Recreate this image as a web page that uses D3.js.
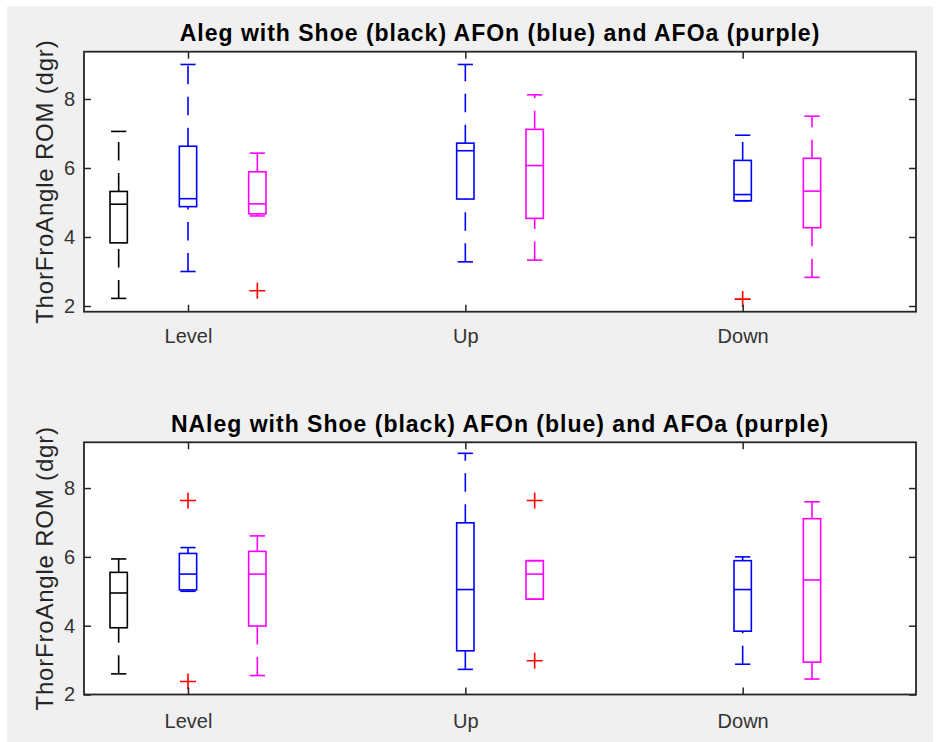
<!DOCTYPE html>
<html>
<head>
<meta charset="utf-8">
<script src="https://cdn.jsdelivr.net/npm/d3@7"></script>
<style>
    body { margin: 0; background: #ffffff; }
    svg text { font-family: "Liberation Sans", Arial, sans-serif; }
</style>
</head>
<body>
<div id="my_dataviz"></div>
<script>
// grupos en el eje x
let categories = ["Level", "Up", "Down"]
let categoryPos = [2, 6, 10]
let boxPos = [1, 2, 3, 6, 7, 10, 11]
let boxSeries = ["Shoe", "AFOn", "AFOa", "AFOn", "AFOa", "AFOn", "AFOa"]
let yTicks = [2, 4, 6, 8]

// Aleg
let topMin = [2.22, 3.00, 4.61, 3.28, 3.33, 5.05, 2.83]
let topQ1 = [3.83, 4.88, 4.67, 5.10, 4.54, 5.05, 4.27]
let topMed = [4.95, 5.11, 4.96, 6.50, 6.07, 5.23, 5.33]
let topQ3 = [5.32, 6.63, 5.89, 6.72, 7.12, 6.22, 6.28]
let topMax = [7.06, 9.00, 6.43, 9.00, 8.12, 6.95, 7.50]
let topOut = [[], [], [2.44], [], [], [2.20], []]

// NAleg
let botMin = [2.60, 5.00, 2.55, 2.73, 4.77, 2.88, 2.45]
let botQ1 = [3.94, 5.04, 3.99, 3.27, 4.77, 3.84, 2.94]
let botMed = [4.95, 5.50, 5.50, 5.05, 5.50, 5.05, 5.33]
let botQ3 = [5.55, 6.10, 6.16, 6.99, 5.89, 5.89, 7.11]
let botMax = [5.94, 6.27, 6.61, 9.01, 5.89, 6.00, 7.60]
let botOut = [[], [7.64, 2.38], [], [], [7.64, 2.98], [], []]

let colores = {"Shoe": "#000000", "AFOn": "#0000ff", "AFOa": "#ff00ff"}

var svg = d3.select("#my_dataviz")
    .append("svg")
        .attr("width", 937)
        .attr("height", 742)

svg.append("rect")
    .attr("x", 7).attr("y", 6)
    .attr("width", 926).attr("height", 736)
    .attr("fill", "#f0f0f0")

let xScale = d3.scaleLinear().domain([0.5, 12.5]).range([84, 916])

function armar(mins, q1s, meds, q3s, maxs, outs) {
    return boxPos.map((p, i) => ({
        pos: p, serie: boxSeries[i],
        min: mins[i], q1: q1s[i], med: meds[i], q3: q3s[i], max: maxs[i],
        out: outs[i]
    }))
}

function panel(data, titulo, top, bottom, yDomain, titleY, labelPad) {
    let yScale = d3.scaleLinear().domain(yDomain).range([bottom, top])
    let g = svg.append("g")

    g.append("rect")
        .attr("x", xScale.range()[0]).attr("y", top)
        .attr("width", xScale.range()[1] - xScale.range()[0])
        .attr("height", bottom - top)
        .attr("fill", "#ffffff")

    let boxW = xScale(0.5) - xScale(0.25)
    let capW = xScale(0.22) - xScale(0)

    let join = g.selectAll(".caja")
        .data(data)
        .enter()
        .append("g")
        .attr("class", "caja")
        .attr("stroke", d => colores[d.serie])
        .attr("stroke-width", 1.6)
        .attr("fill", "none")

    // bigotes punteados
    join.append("line")
        .attr("x1", d => xScale(d.pos)).attr("x2", d => xScale(d.pos))
        .attr("y1", d => yScale(d.q3)).attr("y2", d => yScale(d.max))
        .attr("stroke-dasharray", "18.5,12.5")
    join.append("line")
        .attr("x1", d => xScale(d.pos)).attr("x2", d => xScale(d.pos))
        .attr("y1", d => yScale(d.min)).attr("y2", d => yScale(d.q1))
        .attr("stroke-dasharray", "18.5,12.5")

    join.append("line")
        .attr("x1", d => xScale(d.pos) - capW / 2).attr("x2", d => xScale(d.pos) + capW / 2)
        .attr("y1", d => yScale(d.max)).attr("y2", d => yScale(d.max))
    join.append("line")
        .attr("x1", d => xScale(d.pos) - capW / 2).attr("x2", d => xScale(d.pos) + capW / 2)
        .attr("y1", d => yScale(d.min)).attr("y2", d => yScale(d.min))

    join.append("rect")
        .attr("x", d => xScale(d.pos) - boxW / 2)
        .attr("width", boxW)
        .attr("y", d => yScale(d.q3))
        .attr("height", d => yScale(d.q1) - yScale(d.q3))

    join.append("line")
        .attr("x1", d => xScale(d.pos) - boxW / 2).attr("x2", d => xScale(d.pos) + boxW / 2)
        .attr("y1", d => yScale(d.med)).attr("y2", d => yScale(d.med))

    // outliers
    join.selectAll(".out")
        .data(d => d.out.map(v => ({pos: d.pos, v: v})))
        .enter()
        .append("path")
        .attr("class", "out")
        .attr("stroke", "#ff0000")
        .attr("d", o => {
            let cx = xScale(o.pos), cy = yScale(o.v)
            return `M${cx - 8},${cy}H${cx + 8}M${cx},${cy - 8}V${cy + 8}`
        })

    let ejes = g.append("g")

    ejes.append("g")
        .attr("transform", `translate(${xScale.range()[0]},0)`)
        .call(d3.axisLeft(yScale).tickValues(yTicks).tickSizeInner(-7).tickSizeOuter(0).tickPadding(9))
    ejes.append("g")
        .attr("transform", `translate(${xScale.range()[1]},0)`)
        .call(d3.axisRight(yScale).tickValues(yTicks).tickSizeInner(-7).tickSizeOuter(0).tickFormat(""))
    ejes.append("g")
        .attr("transform", `translate(0,${bottom})`)
        .call(d3.axisBottom(xScale).tickValues(categoryPos).tickSizeInner(-7).tickSizeOuter(0)
            .tickPadding(labelPad).tickFormat((d, i) => categories[i]))
    ejes.append("g")
        .attr("transform", `translate(0,${top})`)
        .call(d3.axisTop(xScale).tickValues(categoryPos).tickSizeInner(-7).tickSizeOuter(0).tickFormat(""))

    ejes.selectAll("path.domain").attr("stroke", "none")
    ejes.selectAll(".tick line").attr("stroke", "#262626").attr("stroke-width", 1.5)
    ejes.selectAll(".tick text")
        .attr("fill", "#333333")
        .attr("font-size", 20)
        .attr("font-family", "Liberation Sans, Arial, sans-serif")

    g.append("rect")
        .attr("x", xScale.range()[0]).attr("y", top)
        .attr("width", xScale.range()[1] - xScale.range()[0])
        .attr("height", bottom - top)
        .attr("fill", "none")
        .attr("stroke", "#262626")
        .attr("stroke-width", 1.8)

    g.append("text")
        .attr("x", (xScale.range()[0] + xScale.range()[1]) / 2)
        .attr("y", titleY)
        .attr("text-anchor", "middle")
        .attr("font-size", 23)
        .attr("font-weight", "bold")
        .attr("letter-spacing", 1)
        .attr("fill", "#000000")
        .text(titulo)

    g.append("text")
        .attr("transform", `translate(53,${(top + bottom) / 2}) rotate(-90)`)
        .attr("text-anchor", "middle")
        .attr("font-size", 24)
        .attr("letter-spacing", 0.8)
        .attr("fill", "#262626")
        .text("ThorFroAngle ROM (dgr)")
}

panel(armar(topMin, topQ1, topMed, topQ3, topMax, topOut),
    "Aleg with Shoe (black) AFOn (blue) and AFOa (purple)",
    51.7, 311.7, [1.835, 9.37], 41, 17)

panel(armar(botMin, botQ1, botMed, botQ3, botMax, botOut),
    "NAleg with Shoe (black) AFOn (blue) and AFOa (purple)",
    442.3, 694.5, [2.0, 9.33], 432, 19)
</script>
</body>
</html>
